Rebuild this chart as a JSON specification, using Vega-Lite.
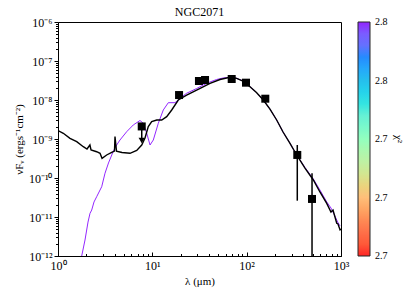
{
  "$schema": "https://vega.github.io/schema/vega-lite/v6.json",
  "width": 283,
  "height": 234,
  "autosize": {"type": "none"},
  "padding": {"left": 58, "top": 22, "right": 74, "bottom": 42},
  "background": "white",
  "title": {"text": "NGC2071", "font": "Liberation Serif", "fontSize": 12, "fontWeight": "normal", "color": "black", "offset": 5, "frame": "group", "dy": 8},
  "config": {
    "view": {"stroke": "black", "strokeWidth": 1},
    "axis": {"grid": false, "domainColor": "black", "tickColor": "black", "labelColor": "black", "titleColor": "black", "labelFont": "Liberation Serif", "titleFont": "Liberation Serif", "labelFontSize": 12, "titleFontSize": 11, "titleFontWeight": "normal"},
    "legend": {"labelFont": "Liberation Serif", "titleFont": "Liberation Serif", "labelColor": "black", "titleColor": "black"}
  },
  "datasets": {
    "model": [
      {"lam": 1.0, "flux": 1.65e-9}, {"lam": 1.138, "flux": 1.40e-9}, {"lam": 1.34, "flux": 1.04e-9},
      {"lam": 1.579, "flux": 8.53e-10}, {"lam": 1.854, "flux": 6.35e-10}, {"lam": 2.03, "flux": 5.55e-10},
      {"lam": 2.18, "flux": 7.02e-10}, {"lam": 2.24, "flux": 5.22e-10}, {"lam": 2.57, "flux": 4.72e-10},
      {"lam": 2.79, "flux": 4.30e-10}, {"lam": 2.93, "flux": 3.20e-10}, {"lam": 3.28, "flux": 3.89e-10},
      {"lam": 3.71, "flux": 4.51e-10}, {"lam": 3.97, "flux": 4.90e-10}, {"lam": 4.02, "flux": 1.15e-9},
      {"lam": 4.17, "flux": 4.90e-10}, {"lam": 4.77, "flux": 4.51e-10}, {"lam": 5.80, "flux": 4.30e-10},
      {"lam": 6.83, "flux": 5.07e-10}, {"lam": 7.72, "flux": 7.02e-10}, {"lam": 8.36, "flux": 1.06e-9},
      {"lam": 9.06, "flux": 2.07e-9}, {"lam": 9.85, "flux": 2.78e-9}, {"lam": 11.13, "flux": 3.07e-9},
      {"lam": 12.57, "flux": 3.07e-9}, {"lam": 14.2, "flux": 3.73e-9}, {"lam": 16.05, "flux": 5.55e-9},
      {"lam": 18.85, "flux": 1.0e-8}, {"lam": 23.1, "flux": 1.34e-8}, {"lam": 29.5, "flux": 1.80e-8},
      {"lam": 40.9, "flux": 2.68e-8}, {"lam": 52.1, "flux": 3.36e-8}, {"lam": 66.6, "flux": 3.82e-8},
      {"lam": 78.4, "flux": 3.60e-8}, {"lam": 91.4, "flux": 3.07e-8}, {"lam": 108.5, "flux": 2.19e-8},
      {"lam": 127, "flux": 1.56e-8}, {"lam": 150, "flux": 1.0e-8}, {"lam": 176.6, "flux": 5.87e-9},
      {"lam": 208, "flux": 3.07e-9}, {"lam": 243, "flux": 1.51e-9}, {"lam": 288, "flux": 7.76e-10},
      {"lam": 339, "flux": 3.89e-10}, {"lam": 415, "flux": 1.80e-10}, {"lam": 509, "flux": 8.89e-11},
      {"lam": 598, "flux": 4.38e-11}, {"lam": 706, "flux": 2.24e-11}, {"lam": 783, "flux": 1.34e-11},
      {"lam": 823, "flux": 1.51e-11}, {"lam": 901, "flux": 6.89e-12}, {"lam": 929, "flux": 6.61e-12},
      {"lam": 977, "flux": 4.68e-12}, {"lam": 1000, "flux": 4.90e-12}
    ],
    "fit": [
      {"lam": 1.783, "flux": 1.0e-12, "chi2": 2.8}, {"lam": 1.933, "flux": 2.57e-12, "chi2": 2.8},
      {"lam": 2.08, "flux": 7.41e-12, "chi2": 2.8}, {"lam": 2.184, "flux": 1.24e-11, "chi2": 2.8},
      {"lam": 2.277, "flux": 1.51e-11, "chi2": 2.8}, {"lam": 2.408, "flux": 2.43e-11, "chi2": 2.8},
      {"lam": 2.572, "flux": 3.32e-11, "chi2": 2.8}, {"lam": 2.906, "flux": 5.98e-11, "chi2": 2.8},
      {"lam": 3.149, "flux": 1.32e-10, "chi2": 2.8}, {"lam": 3.43, "flux": 2.43e-10, "chi2": 2.8},
      {"lam": 3.857, "flux": 4.86e-10, "chi2": 2.8}, {"lam": 4.12, "flux": 6.61e-10, "chi2": 2.8},
      {"lam": 4.54, "flux": 9.42e-10, "chi2": 2.8}, {"lam": 5.35, "flux": 1.54e-9, "chi2": 2.8},
      {"lam": 6.28, "flux": 2.29e-9, "chi2": 2.8}, {"lam": 7.40, "flux": 2.98e-9, "chi2": 2.8},
      {"lam": 8.02, "flux": 2.53e-9, "chi2": 2.8}, {"lam": 8.72, "flux": 1.40e-9, "chi2": 2.8},
      {"lam": 9.45, "flux": 7.02e-10, "chi2": 2.8}, {"lam": 10.24, "flux": 9.42e-10, "chi2": 2.8},
      {"lam": 11.57, "flux": 2.53e-9, "chi2": 2.8}, {"lam": 13.07, "flux": 5.55e-9, "chi2": 2.8},
      {"lam": 14.77, "flux": 8.53e-9, "chi2": 2.8}, {"lam": 17.39, "flux": 8.53e-9, "chi2": 2.8},
      {"lam": 19.65, "flux": 1.11e-8, "chi2": 2.8}, {"lam": 23.1, "flux": 1.49e-8, "chi2": 2.8},
      {"lam": 29.5, "flux": 1.97e-8, "chi2": 2.8}, {"lam": 34.7, "flux": 2.43e-8, "chi2": 2.8},
      {"lam": 40.9, "flux": 2.90e-8, "chi2": 2.8}, {"lam": 48.1, "flux": 3.36e-8, "chi2": 2.8},
      {"lam": 56.1, "flux": 3.66e-8, "chi2": 2.8}, {"lam": 66.6, "flux": 3.82e-8, "chi2": 2.8},
      {"lam": 78.4, "flux": 3.60e-8, "chi2": 2.8}, {"lam": 91.4, "flux": 3.07e-8, "chi2": 2.8},
      {"lam": 108.5, "flux": 2.19e-8, "chi2": 2.8}, {"lam": 127, "flux": 1.56e-8, "chi2": 2.8},
      {"lam": 150, "flux": 1.0e-8, "chi2": 2.8}, {"lam": 176.6, "flux": 5.87e-9, "chi2": 2.8},
      {"lam": 208, "flux": 3.07e-9, "chi2": 2.8}, {"lam": 243, "flux": 1.51e-9, "chi2": 2.8},
      {"lam": 288, "flux": 7.76e-10, "chi2": 2.8}, {"lam": 339, "flux": 3.89e-10, "chi2": 2.8},
      {"lam": 415, "flux": 1.86e-10, "chi2": 2.8}, {"lam": 509, "flux": 9.42e-11, "chi2": 2.8},
      {"lam": 598, "flux": 4.92e-11, "chi2": 2.8}, {"lam": 706, "flux": 2.43e-11, "chi2": 2.8},
      {"lam": 783, "flux": 1.70e-11, "chi2": 2.8}, {"lam": 843, "flux": 1.19e-11, "chi2": 2.8},
      {"lam": 921, "flux": 7.45e-12, "chi2": 2.8}, {"lam": 977, "flux": 5.89e-12, "chi2": 2.8}
    ],
    "phot": [
      {"lam": 19.2, "flux": 1.34e-8}, {"lam": 31.2, "flux": 3.07e-8}, {"lam": 36.2, "flux": 3.26e-8},
      {"lam": 69.4, "flux": 3.45e-8}, {"lam": 98.4, "flux": 2.78e-8}, {"lam": 157.6, "flux": 1.08e-8},
      {"lam": 344, "flux": 3.9e-10}, {"lam": 493, "flux": 2.9e-11}, {"lam": 7.72, "flux": 2.1e-9}
    ],
    "errs": [
      {"lam": 344, "flux": 2.62e-11, "flux2": 7.02e-10},
      {"lam": 493, "flux": 1e-13, "flux2": 1.32e-10},
      {"lam": 7.72, "flux": 9.2e-10, "flux2": 2.1e-9}
    ],
    "ulim": [
      {"lam": 7.72, "flux": 9.2e-10}
    ]
  },
  "encoding": {
    "x": {
      "field": "lam", "type": "quantitative",
      "scale": {"type": "log", "domain": [1, 1000]},
      "axis": {
        "title": "λ (μm)",
        "values": [1,2,3,4,5,6,7,8,9,10,20,30,40,50,60,70,80,90,100,200,300,400,500,600,700,800,900,1000],
        "labelExpr": "datum.value==1?'10⁰':datum.value==10?'10¹':datum.value==100?'10²':datum.value==1000?'10³':''",
        "tickSize": {"condition": {"test": "datum.value==1||datum.value==10||datum.value==100||datum.value==1000", "value": -4}, "value": -2.5},
        "labelPadding": 8,
        "titlePadding": 3,
        "labelFlush": false,
        "labelOverlap": false
      }
    },
    "y": {
      "field": "flux", "type": "quantitative",
      "scale": {"type": "log", "domain": [1e-12, 1e-6]},
      "axis": {
        "title": "νFᵥ (ergs⁻¹cm⁻²)",
        "values": [1e-12,2e-12,3e-12,4e-12,5e-12,6e-12,7e-12,8e-12,9e-12,1e-11,2e-11,3e-11,4e-11,5e-11,6e-11,7e-11,8e-11,9e-11,1e-10,2e-10,3e-10,4e-10,5e-10,6e-10,7e-10,8e-10,9e-10,1e-9,2e-9,3e-9,4e-9,5e-9,6e-9,7e-9,8e-9,9e-9,1e-8,2e-8,3e-8,4e-8,5e-8,6e-8,7e-8,8e-8,9e-8,1e-7,2e-7,3e-7,4e-7,5e-7,6e-7,7e-7,8e-7,9e-7,1e-6],
        "labelExpr": "datum.value==1e-6?'10⁻⁶':datum.value==1e-7?'10⁻⁷':datum.value==1e-8?'10⁻⁸':datum.value==1e-9?'10⁻⁹':datum.value==1e-10?'10⁻¹⁰':datum.value==1e-11?'10⁻¹¹':datum.value==1e-12?'10⁻¹²':''",
        "tickSize": {"condition": {"test": "datum.value==1e-6||datum.value==1e-7||datum.value==1e-8||datum.value==1e-9||datum.value==1e-10||datum.value==1e-11||datum.value==1e-12", "value": 4}, "value": 2.5},
        "labelPadding": 2,
        "titlePadding": 4,
        "labelFlush": false,
        "labelOverlap": false
      }
    }
  },
  "layer": [
    {
      "data": {"name": "fit"},
      "mark": {"type": "line", "strokeWidth": 1, "opacity": 0.85, "clip": true},
      "encoding": {
        "color": {
          "field": "chi2", "type": "quantitative",
          "scale": {
            "domain": [2.7, 2.7125, 2.725, 2.7375, 2.75, 2.7625, 2.775, 2.7875, 2.8],
            "range": ["#ff0000", "#ff6232", "#ffb462", "#bfeb8e", "#80ffb4", "#40ebd4", "#00b4eb", "#4062fa", "#8000ff"]
          },
          "legend": {
            "orient": "none", "legendX": 300, "legendY": 0,
            "direction": "vertical",
            "gradientLength": 234, "gradientThickness": 12,
            "gradientStrokeColor": "black", "gradientStrokeWidth": 1,
            "values": [2.7001, 2.725, 2.75, 2.775, 2.7999],
            "labelExpr": "datum.value>2.76?'2.8':'2.7'",
            "labelFontSize": 10, "labelOffset": 5, "labelBaseline": "middle",
            "title": "χ²", "titleOrient": "right", "titleFontSize": 11, "titleFontWeight": "normal"
          }
        }
      }
    },
    {
      "data": {"name": "model"},
      "mark": {"type": "line", "color": "black", "strokeWidth": 1.4, "clip": true}
    },
    {
      "data": {"name": "errs"},
      "mark": {"type": "rule", "color": "black", "strokeWidth": 1.5, "clip": true},
      "encoding": {"y2": {"field": "flux2"}}
    },
    {
      "data": {"name": "ulim"},
      "mark": {"type": "point", "shape": "triangle-down", "filled": true, "color": "black", "size": 40, "opacity": 1}
    },
    {
      "data": {"name": "phot"},
      "mark": {"type": "point", "shape": "square", "filled": true, "color": "black", "size": 64, "opacity": 1}
    }
  ]
}
